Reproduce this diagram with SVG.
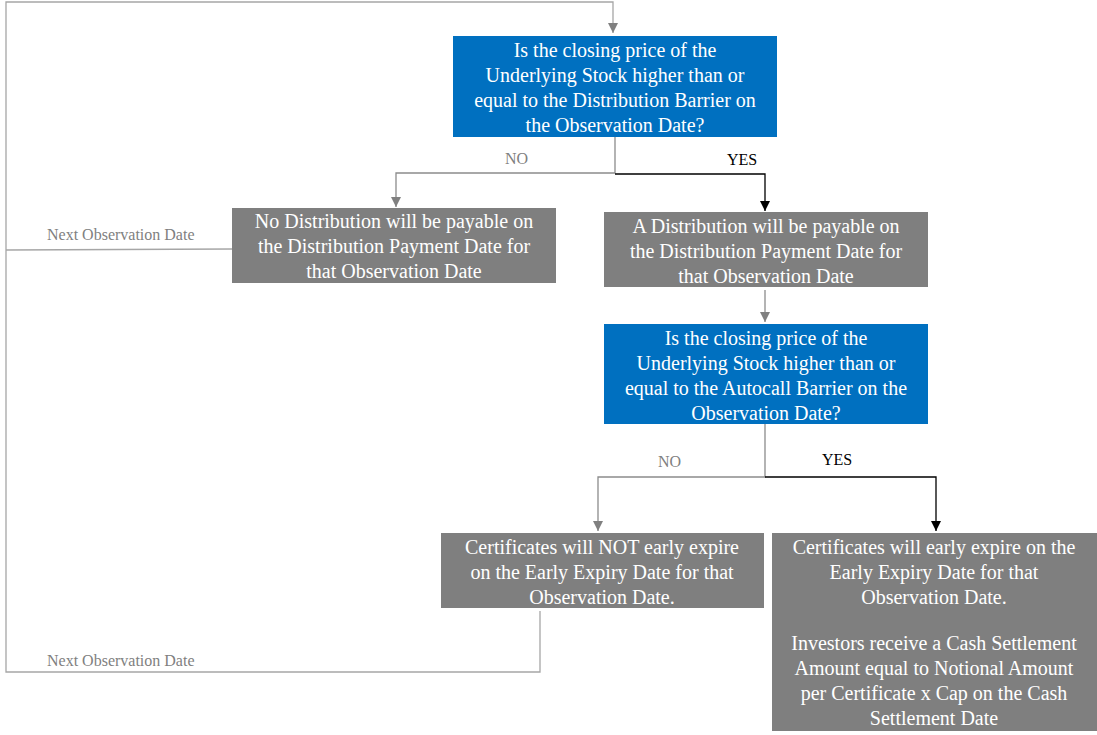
<svg xmlns="http://www.w3.org/2000/svg" width="1097" height="735" viewBox="0 0 1097 735">
<defs>
<marker id="ag" viewBox="0 0 10 10" refX="10" refY="5" markerWidth="10" markerHeight="10" markerUnits="userSpaceOnUse" orient="auto"><path d="M0,0 L10,5 L0,10 z" fill="#808080"/></marker>
<marker id="ab" viewBox="0 0 10 10" refX="10" refY="5" markerWidth="10" markerHeight="10" markerUnits="userSpaceOnUse" orient="auto"><path d="M0,0 L10,5 L0,10 z" fill="#000"/></marker>
</defs>
<style>
.blue{fill:#0070C0;}
.gray{fill:#7F7F7F;}
.t{font-family:'Times New Roman','Liberation Serif',serif;font-size:20px;fill:#fff;text-anchor:middle;}
.lbl{font-family:'Times New Roman','Liberation Serif',serif;font-size:16px;}
.cg{fill:none;stroke:#8c8c8c;stroke-width:1.3;}
.cl{fill:none;stroke:#a6a6a6;stroke-width:1.3;}
.cb{fill:none;stroke:#000;stroke-width:1.3;}
</style>
<rect width="1097" height="735" fill="#fff"/>
<g id="connectors">
<path class="cl" d="M540,611 V672 H6 V2 H613 V33" marker-end="url(#ag)"/>
<path class="cl" d="M232,249 L6,250"/>
<path class="cg" d="M615,137 V173 H396 V207" marker-end="url(#ag)"/>
<path class="cb" d="M615,174 H765 V211" marker-end="url(#ab)"/>
<path class="cg" d="M765,290 V322" marker-end="url(#ag)"/>
<path class="cg" d="M765,424 V477 H598 V531" marker-end="url(#ag)"/>
<path class="cb" d="M765,477 H936 V531" marker-end="url(#ab)"/>
<text class="lbl" x="47" y="240" fill="#7F7F7F">Next Observation Date</text>
<text class="lbl" x="47" y="666" fill="#7F7F7F">Next Observation Date</text>
<text class="lbl" x="505" y="164" fill="#7F7F7F">NO</text>
<text class="lbl" x="727" y="165" fill="#000">YES</text>
<text class="lbl" x="658" y="467" fill="#7F7F7F">NO</text>
<text class="lbl" x="822" y="465" fill="#000">YES</text>
</g>
<g id="q1">
<rect class="blue" x="453" y="36" width="324" height="101"/>
<text class="t"><tspan x="615" y="57">Is the closing price of the</tspan><tspan x="615" y="82">Underlying Stock higher than or</tspan><tspan x="615" y="107">equal to the Distribution Barrier on</tspan><tspan x="615" y="132">the Observation Date?</tspan></text>
</g>
<g id="nodist">
<rect class="gray" x="232" y="208" width="324" height="75"/>
<text class="t"><tspan x="394" y="228">No Distribution will be payable on</tspan><tspan x="394" y="253">the Distribution Payment Date for</tspan><tspan x="394" y="278">that Observation Date</tspan></text>
</g>
<g id="dist">
<rect class="gray" x="604" y="212" width="324" height="75"/>
<text class="t"><tspan x="766" y="233">A Distribution will be payable on</tspan><tspan x="766" y="258">the Distribution Payment Date for</tspan><tspan x="766" y="283">that Observation Date</tspan></text>
</g>
<g id="q2">
<rect class="blue" x="604" y="324" width="324" height="100"/>
<text class="t"><tspan x="766" y="345">Is the closing price of the</tspan><tspan x="766" y="370">Underlying Stock higher than or</tspan><tspan x="766" y="395">equal to the Autocall Barrier on the</tspan><tspan x="766" y="420">Observation Date?</tspan></text>
</g>
<g id="noexpire">
<rect class="gray" x="441" y="533" width="323" height="75"/>
<text class="t"><tspan x="602" y="554">Certificates will NOT early expire</tspan><tspan x="602" y="579">on the Early Expiry Date for that</tspan><tspan x="602" y="604">Observation Date.</tspan></text>
</g>
<g id="expire">
<rect class="gray" x="772" y="533" width="325" height="198"/>
<text class="t"><tspan x="934" y="554">Certificates will early expire on the</tspan><tspan x="934" y="579">Early Expiry Date for that</tspan><tspan x="934" y="604">Observation Date.</tspan><tspan x="934" y="650">Investors receive a Cash Settlement</tspan><tspan x="934" y="675">Amount equal to Notional Amount</tspan><tspan x="934" y="700">per Certificate x Cap on the Cash</tspan><tspan x="934" y="725">Settlement Date</tspan></text>
</g>
</svg>
